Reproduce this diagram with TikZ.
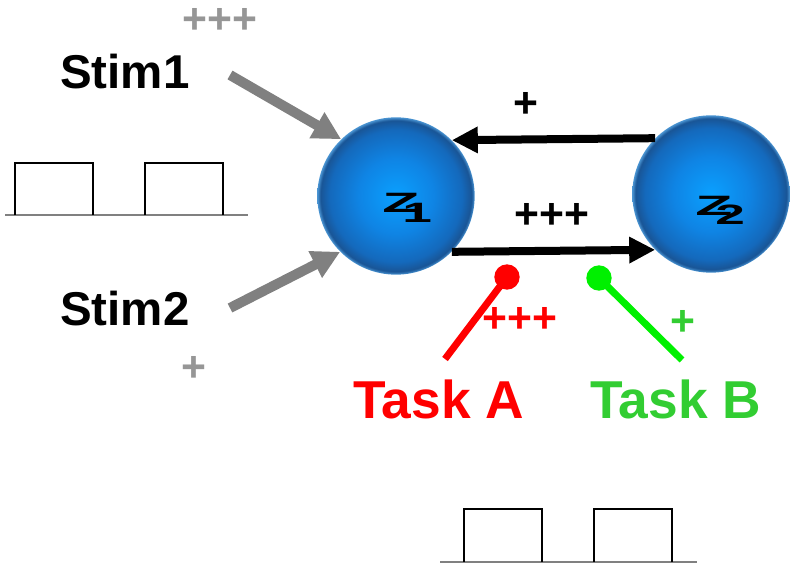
\documentclass[tikz,border=0pt]{standalone}
\usepackage{fontspec}
\usepackage{graphicx}
\setmainfont{Liberation Sans}
\usetikzlibrary{arrows.meta}

\definecolor{arrowgray}{RGB}{128,128,128}
\definecolor{signgray}{RGB}{150,150,150}
\definecolor{taskred}{RGB}{255,0,0}
\definecolor{lineGreen}{RGB}{0,240,0}
\definecolor{textGreen}{RGB}{50,205,50}
\definecolor{orbA}{RGB}{10,160,255}
\definecolor{orbB}{RGB}{15,132,228}
\definecolor{orbC}{RGB}{20,105,188}
\definecolor{orbD}{RGB}{25,85,150}
\definecolor{orbE}{RGB}{75,150,212}

% blue ball: bright core, darker rim, thin light edge
\pgfdeclareradialshading{orb}{\pgfpoint{0bp}{0bp}}{%
  color(0bp)=(orbA); color(12bp)=(orbB); color(21bp)=(orbC);
  color(24bp)=(orbD); color(25bp)=(orbE); color(50bp)=(orbE)}

% stretched Z with an overlapping index
\newcommand\zname[1]{\scalebox{2.17}[1]{Z}\kern-12.75pt\raisebox{-6.75pt}{\scalebox{1.9}[1]{#1}}}

\tikzset{
  sphere/.style={circle, inner sep=0pt, minimum size=118pt, shading=orb},
  zlabel/.style={anchor=base west, inner sep=0pt, font=\fontsize{21pt}{24pt}\selectfont\bfseries},
  stimtext/.style={anchor=base west, inner sep=0pt, font=\fontsize{35.6pt}{40pt}\selectfont\bfseries},
  tasktext/.style={anchor=base west, inner sep=0pt, font=\fontsize{40pt}{44pt}\selectfont\bfseries},
  sign/.style={inner sep=0pt, font=\fontsize{32pt}{36pt}\selectfont\bfseries},
  stimarrow/.style={draw=arrowgray, line width=7.5pt, -{Triangle[length=21pt,width=21pt]}},
  linkarrow/.style={draw=black, line width=6pt, -{Triangle[length=19.5pt,width=18.75pt]}},
  taskline/.style={line width=5.25pt},
  taskdot/.style={circle, inner sep=0pt, minimum size=19pt},
  pulse/.style={line width=1.5pt, black},
  pulsebase/.style={line width=1.2pt, arrowgray},
}

\begin{document}
\begin{tikzpicture}[x=0.75pt, y=-0.75pt]
\useasboundingbox (0,0) rectangle (790,567);

% stimulus pulse train
\draw[pulsebase] (5,215) -- (248,215);
\draw[pulse] (15,215) -- (15,163) -- (93,163) -- (93,215);
\draw[pulse] (145,215) -- (145,163) -- (223,163) -- (223,215);

% task pulse train
\draw[pulsebase] (440,562) -- (697,562);
\draw[pulse] (464,562) -- (464,509) -- (542,509) -- (542,562);
\draw[pulse] (594,562) -- (594,509) -- (672,509) -- (672,562);

% units
\node[sphere] (z1) at (396,196) {};
\node[sphere] (z2) at (711,194) {};
\node[zlabel] (z1lbl) at (382,213) {\zname{1}};
\node[zlabel] (z2lbl) at (695,215) {\zname{2}};

% stimuli
\node[stimtext] (stim1) at (60,89) {Stim1};
\node[stimtext] (stim2) at (60,325) {Stim2};
\coordinate (s1out) at (230,75);
\coordinate (s2out) at (230,308);
\draw[stimarrow] (s1out) -- (z1.134);
\draw[stimarrow] (s2out) -- (z1.225);
\node[sign, text=signgray] (s1gain) at (220,20.5) {+++};
\node[sign, text=signgray] (s2gain) at (194,369) {+};

% recurrent links
\draw[linkarrow] (z2.135) -- (z1.45);
\draw[linkarrow] (z1.315) -- (z2.225);
\node[sign] (backgain) at (525.5,105) {+};
\node[sign] (fwdgain) at (552,216) {+++};

% task inputs
\coordinate (taEnd) at (445,359);
\coordinate (tbEnd) at (682,360);
\node[taskdot] (taDot) at (507,277) {};
\node[taskdot] (tbDot) at (599,278) {};
\draw[taskline, taskred] (taEnd) -- (taDot.center);
\draw[taskline, lineGreen] (tbEnd) -- (tbDot.center);
\fill[taskred] (taDot) circle (9.5pt);
\fill[lineGreen] (tbDot) circle (9.5pt);
\node[sign, text=taskred] (tagain) at (520,320) {+++};
\node[sign, text=textGreen] (tbgain) at (682.5,322.5) {+};
\node[tasktext, text=taskred] (taskA) at (353,418) {Task A};
\node[tasktext, text=textGreen] (taskB) at (590,418) {Task B};
\end{tikzpicture}
\end{document}
